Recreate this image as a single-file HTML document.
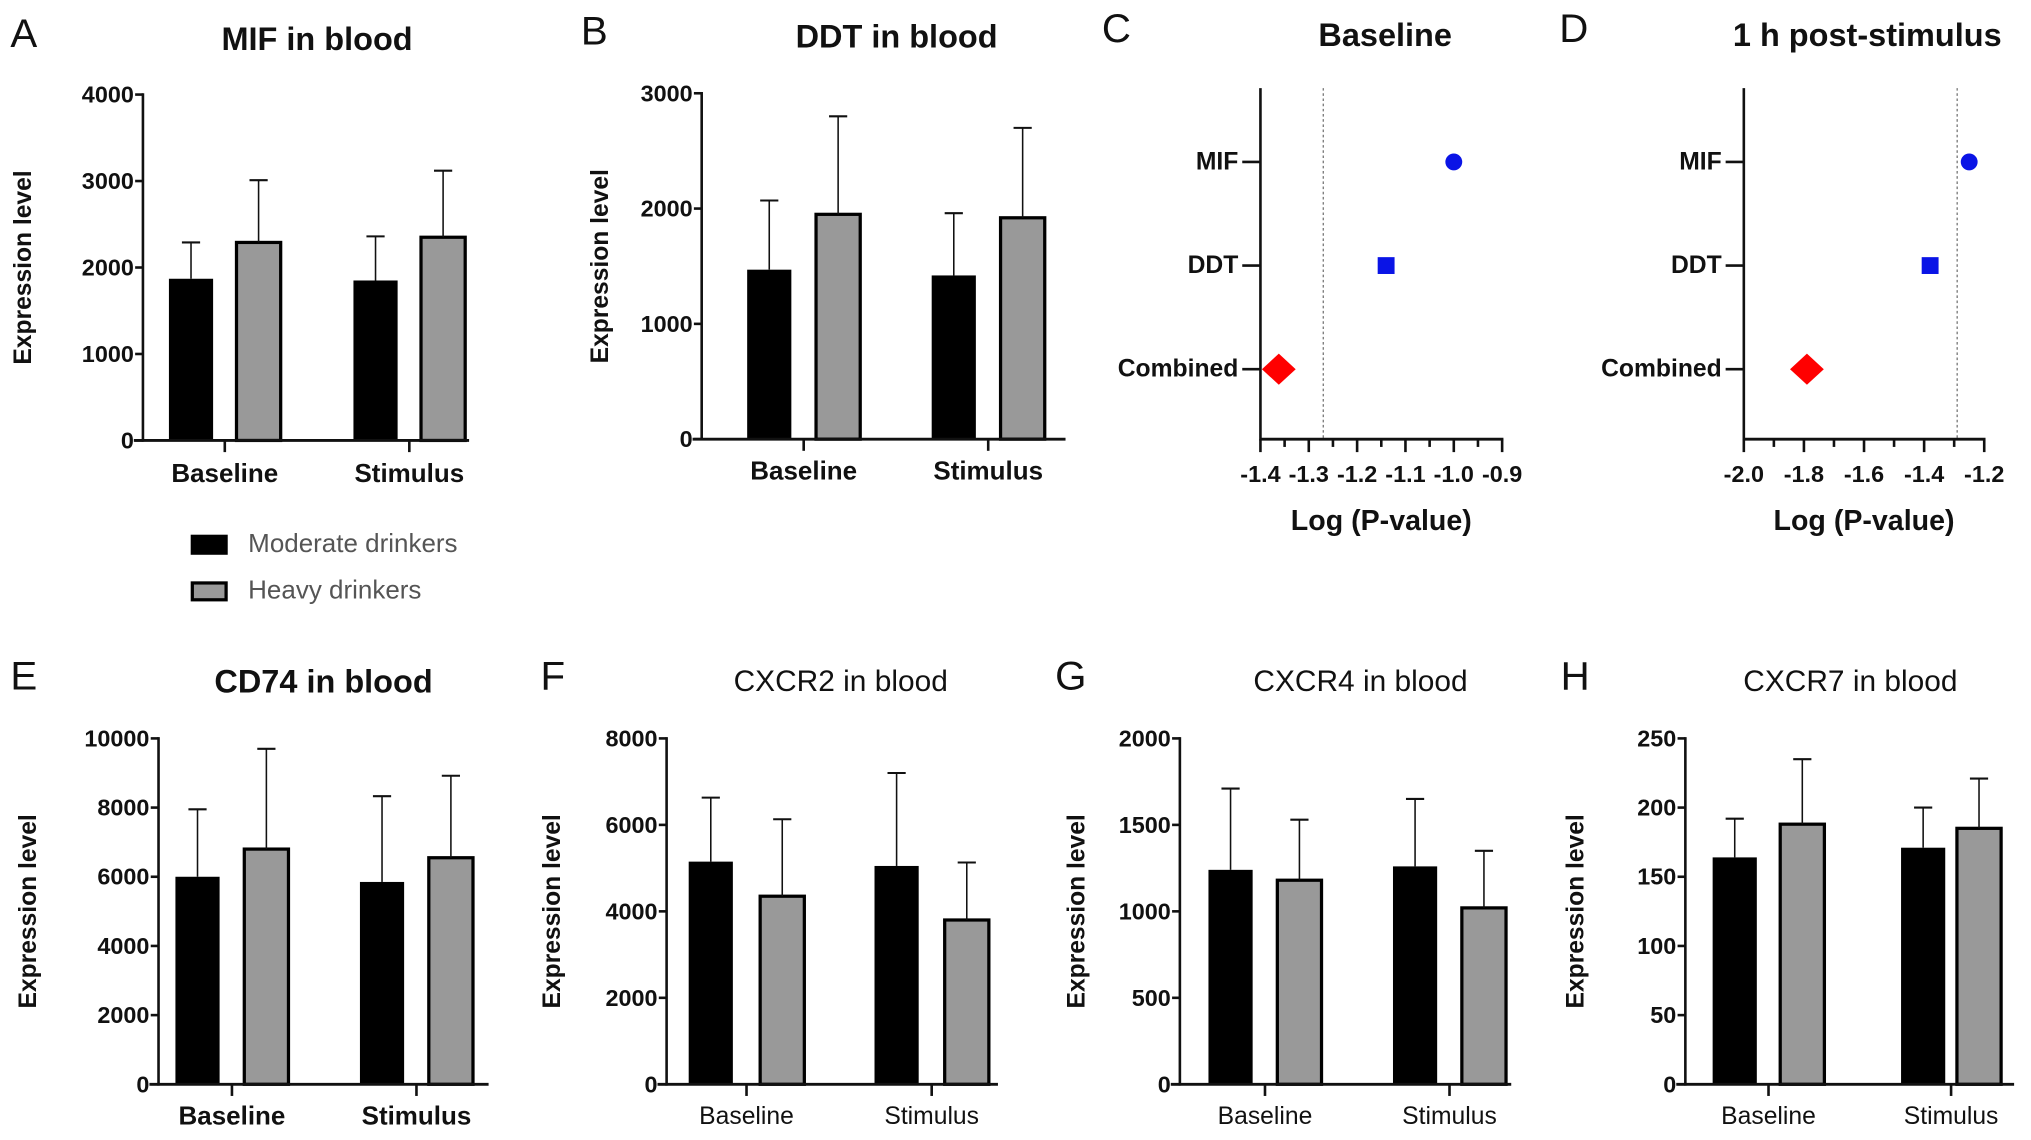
<!DOCTYPE html>
<html><head><meta charset="utf-8"><style>
html,body{margin:0;padding:0;background:#fff;}
svg{display:block;}
text{font-family:"Liberation Sans Narrow","Liberation Sans",sans-serif;}
</style></head><body>
<svg id="fig" width="2031" height="1140" viewBox="0 0 1563 880" preserveAspectRatio="none" xmlns="http://www.w3.org/2000/svg"></svg>
<script>
// ---- Bar chart data ----
const groups = ["Baseline","Stimulus"];
const seriesNames = ["Moderate drinkers","Heavy drinkers"];
const mifMean = [1870,2290,1850,2350];
const mifErr = [2290,3010,2360,3120];
const mifTicks = [0,1000,2000,3000,4000];
const ddtMean = [1470,1950,1420,1920];
const ddtErr = [2070,2800,1960,2700];
const ddtTicks = [0,1000,2000,3000];
const cd74Mean = [6000,6800,5850,6550];
const cd74Err = [7950,9700,8330,8920];
const cd74Ticks = [0,2000,4000,6000,8000,10000];
const cxcr2Mean = [5150,4350,5050,3800];
const cxcr2Err = [6630,6130,7200,5130];
const cxcr2Ticks = [0,2000,4000,6000,8000];
const cxcr4Mean = [1240,1180,1260,1020];
const cxcr4Err = [1710,1530,1650,1350];
const cxcr4Ticks = [0,500,1000,1500,2000];
const cxcr7Mean = [164,188,171,185];
const cxcr7Err = [192,235,200,221];
const cxcr7Ticks = [0,50,100,150,200,250];
// ---- Dot plot data ----
const rows = ["MIF","DDT","Combined"];
const baseVals = [-1.0,-1.14,-1.362];
const baseTicks = ["-1.4","-1.3","-1.2","-1.1","-1.0","-0.9"];
const baseThreshold = -1.27;
const postVals = [-1.25,-1.38,-1.79];
const postTicks = ["-2.0","-1.8","-1.6","-1.4","-1.2"];
const postThreshold = -1.29;

const svg = document.getElementById('fig');
const NS = "http://www.w3.org/2000/svg";
function el(tag, attrs, txt){
  const e = document.createElementNS(NS, tag);
  for (const k in attrs) e.setAttribute(k, attrs[k]);
  if (txt !== undefined) e.textContent = txt;
  svg.appendChild(e);
  return e;
}
function txt(x,y,s,size,opts){
  opts = opts||{};
  const t = el('text',{x:x,y:y,'font-size':size,'text-anchor':opts.anchor||'middle','dominant-baseline':'central','font-weight':opts.weight||'bold',fill:opts.fill||'#111'}, s);
  if (opts.rot) t.setAttribute('transform','rotate(-90 '+x+' '+y+')');
  if (opts.family) t.setAttribute('style','font-family:'+opts.family);
  
  
  return t;
}
const CAL = '"Liberation Sans",sans-serif';

function barPanel(cfg){
  const {ax,y0,ytop,xend,ticks,mean,err,bx,title,titleX,letter,letterX,ytitleX,titleBold,titleY,labY,name} = cfg;
  const max = ticks[ticks.length-1];
  const ys = v => y0 - (v/max)*(y0-ytop);
  txt(letterX, titleY-4, letter, 31, {anchor:'start',weight:'normal',family:CAL,name:name+'-panel-letter'});
  txt(titleX, titleY, title, titleBold?25:23, {weight:titleBold?'bold':'normal',family:titleBold?undefined:CAL,name:name+'-title'});
  txt(ytitleX, (y0+ytop)/2, 'Expression level', 19, {rot:true,family:CAL,name:name+'-y-axis-title'});
  ticks.forEach(t=>{
    const y = ys(t);
    const l = el('line',{x1:ax-6,x2:ax,y1:y,y2:y,stroke:'#111','stroke-width':2});
    
    
    txt(ax-7, y, String(t), 18, {anchor:'end',name:name+'-y-tick-label'});
  });
  mean.forEach((v,i)=>{
    const x = bx[i], w = 34, y = ys(v);
    const heavy = i%2===1;
    const r = el('rect',{x:x,y:y,width:w,height:y0-y,fill:heavy?'#999999':'#000',stroke:'#000','stroke-width':heavy?2.5:0});
    
    
    const cx = x+w/2, ye = ys(err[i]);
    const e1 = el('line',{x1:cx,x2:cx,y1:y,y2:ye,stroke:'#111','stroke-width':1.2});
    
    
    const e2 = el('line',{x1:cx-7,x2:cx+7,y1:ye,y2:ye,stroke:'#111','stroke-width':1.6});
    
    
  });
  const ya = el('line',{x1:ax,x2:ax,y1:ytop-1,y2:y0+1,stroke:'#111','stroke-width':2});
  
  
  const xa = el('line',{x1:ax-7,x2:xend,y1:y0,y2:y0,stroke:'#111','stroke-width':2.2});
  
  
  groups.forEach((g,gi)=>{
    const cx = (bx[gi*2]+bx[gi*2+1]+34)/2;
    const tk = el('line',{x1:cx,x2:cx,y1:y0,y2:y0+9,stroke:'#111','stroke-width':2});
    
    
    txt(cx, labY, g, titleBold?20:19, {weight:titleBold?'bold':'normal',family:titleBold?undefined:CAL,name:name+'-x-tick-label'});
  });
}

barPanel({name:'mif',ax:110,y0:340,ytop:73,xend:361,ticks:mifTicks,mean:mifMean,err:mifErr,bx:[130,182,272,324],title:'MIF in blood',titleX:244,titleY:30,letter:'A',letterX:8,ytitleX:18,titleBold:true,labY:366});
barPanel({name:'ddt',ax:540,y0:339,ytop:72,xend:820,ticks:ddtTicks,mean:ddtMean,err:ddtErr,bx:[575,628,717,770],title:'DDT in blood',titleX:690,titleY:28,letter:'B',letterX:447,ytitleX:462,titleBold:true,labY:364});
barPanel({name:'cd74',ax:122,y0:837,ytop:570,xend:376,ticks:cd74Ticks,mean:cd74Mean,err:cd74Err,bx:[135,188,277,330],title:'CD74 in blood',titleX:249,titleY:526,letter:'E',letterX:8,ytitleX:22,titleBold:true,labY:862});
barPanel({name:'cxcr2',ax:513,y0:837,ytop:570,xend:768,ticks:cxcr2Ticks,mean:cxcr2Mean,err:cxcr2Err,bx:[530,585,673,727],title:'CXCR2 in blood',titleX:647,titleY:526,letter:'F',letterX:416,ytitleX:425,titleBold:false,labY:862});
barPanel({name:'cxcr4',ax:908,y0:837,ytop:570,xend:1163,ticks:cxcr4Ticks,mean:cxcr4Mean,err:cxcr4Err,bx:[930,983,1072,1125],title:'CXCR4 in blood',titleX:1047,titleY:526,letter:'G',letterX:812,ytitleX:829,titleBold:false,labY:862});
barPanel({name:'cxcr7',ax:1297,y0:837,ytop:570,xend:1550,ticks:cxcr7Ticks,mean:cxcr7Mean,err:cxcr7Err,bx:[1318,1370,1463,1506],title:'CXCR7 in blood',titleX:1424,titleY:526,letter:'H',letterX:1201,ytitleX:1213,titleBold:false,labY:862});

[['#000',412],['#999999',448]].forEach((s,i)=>{
  const r = el('rect',{x:148,y:s[1]+2,width:26,height:13,fill:s[0],stroke:'#000','stroke-width':2.5});
  
  
  txt(191, s[1]+8, seriesNames[i], 20, {anchor:'start',weight:'normal',fill:'#555',family:CAL,name:'legend-entry'});
});

function dotPanel(cfg){
  const {name,ax,xend,y0,ytop,ticks,vals,thr,title,titleX,letter,letterX,minor} = cfg;
  const lo = parseFloat(ticks[0]), hi = parseFloat(ticks[ticks.length-1]);
  const xs = v => ax + (v-lo)/(hi-lo)*(xend-ax);
  const rowY = [125,205,285];
  txt(letterX, 22, letter, 31, {anchor:'start',weight:'normal',family:CAL,name:name+'-panel-letter'});
  txt(titleX, 27, title, 25, {name:name+'-title'});
  const dl = el('line',{x1:xs(thr),x2:xs(thr),y1:ytop,y2:y0,stroke:'#777','stroke-width':1,'stroke-dasharray':'2,2'});
  
  
  const ya = el('line',{x1:ax,x2:ax,y1:ytop,y2:y0+1,stroke:'#111','stroke-width':2});
  
  
  const xa = el('line',{x1:ax,x2:xend+1,y1:y0,y2:y0,stroke:'#111','stroke-width':2.2});
  
  
  const step = (hi-lo)/(ticks.length-1);
  for (let i=0;i<ticks.length;i++){
    const x = xs(lo+i*step);
    const t = el('line',{x1:x,x2:x,y1:y0,y2:y0+10,stroke:'#111','stroke-width':2});
    
    
    txt(x, 366, ticks[i], 18, {name:name+'-x-tick-label'});
    if (minor && i<ticks.length-1){
      const xm = xs(lo+(i+0.5)*step);
      const m = el('line',{x1:xm,x2:xm,y1:y0,y2:y0+6,stroke:'#111','stroke-width':2});
      
      
    }
  }
  txt((ax+xend)/2, 402, 'Log (P-value)', 22, {name:name+'-x-axis-title'});
  rows.forEach((r,i)=>{
    const y = rowY[i];
    const t = el('line',{x1:ax-14,x2:ax,y1:y,y2:y,stroke:'#111','stroke-width':2});
    
    
    txt(ax-17, y, r, 19, {anchor:'end',name:name+'-row-label'});
    const x = xs(vals[i]);
    let m;
    if (i===0) m = el('circle',{cx:x,cy:y,r:6.5,fill:'#0a14e6'});
    else if (i===1) m = el('rect',{x:x-6.5,y:y-6.5,width:13,height:13,fill:'#0a14e6'});
    else m = el('polygon',{points:(x-13)+','+y+' '+x+','+(y-12)+' '+(x+13)+','+y+' '+x+','+(y+12),fill:'#f00'});
    
    
  });
}
dotPanel({name:'baseline-pvalue',ax:970,xend:1156,y0:339,ytop:68,ticks:baseTicks,vals:baseVals,thr:baseThreshold,title:'Baseline',titleX:1066,letter:'C',letterX:848,minor:true});
dotPanel({name:'post-stimulus-pvalue',ax:1342,xend:1527,y0:339,ytop:68,ticks:postTicks,vals:postVals,thr:postThreshold,title:'1 h post-stimulus',titleX:1437,letter:'D',letterX:1200,minor:true});
</script>
</body></html>
